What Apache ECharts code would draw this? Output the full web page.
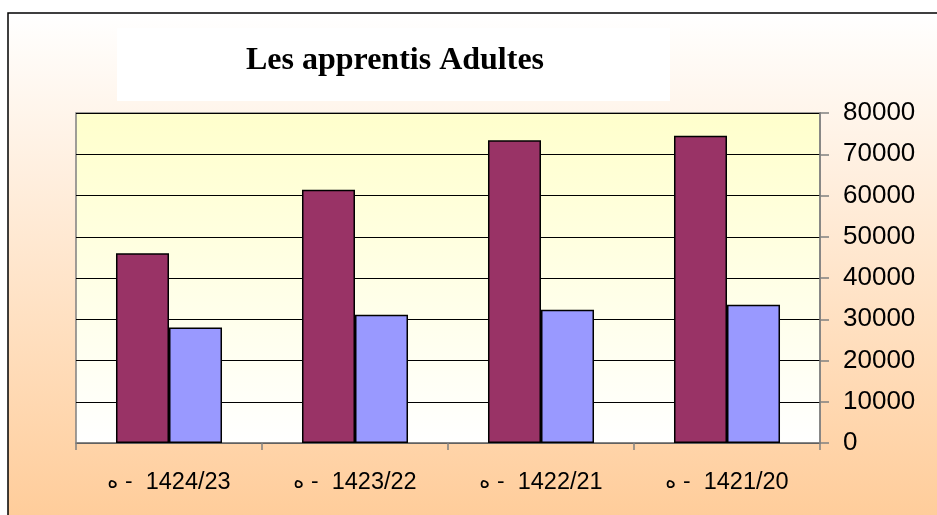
<!DOCTYPE html>
<html>
<head>
<meta charset="utf-8">
<script src="https://cdn.jsdelivr.net/npm/echarts@6/dist/echarts.min.js"></script>
<style>
  html, body { margin: 0; padding: 0; background: #fff; }
  #chart { width: 937px; height: 515px; }
</style>
</head>
<body>
<div id="chart"></div>
<script>
// années (hégire)
var categories = ['1424/23', '1423/22', '1422/21', '1421/20'];
var serie1 = [46000, 61400, 73400, 74500];
var serie2 = [28000, 31100, 32300, 33500];
var yTicks = [0, 10000, 20000, 30000, 40000, 50000, 60000, 70000, 80000];

var dom = document.getElementById('chart');
var myChart = echarts.init(dom);

var option = {
    animation: false,
    backgroundColor: '#ffffff',
    graphic: [
        {
            type: 'rect',
            z: -10,
            shape: { x: 8, y: 13, width: 940, height: 510 },
            style: {
                fill: new echarts.graphic.LinearGradient(0, 0, 0, 1, [
                    { offset: 0, color: '#ffffff' },
                    { offset: 1, color: '#ffcc99' }
                ]),
                stroke: '#000',
                lineWidth: 1.5
            }
        },
        {
            type: 'rect',
            z: -5,
            shape: { x: 117, y: 28, width: 553, height: 73 },
            style: { fill: '#ffffff' }
        },
        {
            type: 'text',
            z: 10,
            x: 395,
            y: 61,
            style: {
                text: 'Les apprentis Adultes',
                fill: '#000',
                font: 'bold 32px "Liberation Serif", "Times New Roman", serif',
                align: 'center',
                verticalAlign: 'middle'
            }
        }
    ],
    grid: {
        left: 76,
        right: 117,
        top: 113,
        bottom: 72,
        show: true,
        borderColor: '#808080',
        borderWidth: 1.5,
        backgroundColor: new echarts.graphic.LinearGradient(0, 0, 0, 1, [
            { offset: 0, color: '#ffffcc' },
            { offset: 1, color: '#ffffff' }
        ])
    },
    xAxis: {
        type: 'category',
        data: categories,
        axisLine: { show: true, lineStyle: { color: '#808080', width: 1.5 } },
        axisTick: { show: true, interval: 0, length: 7, lineStyle: { color: '#808080', width: 1.5 } },
        axisLabel: {
            interval: 0,
            margin: 28,
            color: '#000',
            fontSize: 23.5,
            fontFamily: '"Liberation Sans", Arial, sans-serif',
            formatter: function (v) { return '{h|ه -}  ' + v; },
            rich: {
                h: { fontSize: 21, fontFamily: '"DejaVu Sans", sans-serif', color: '#000' }
            }
        }
    },
    yAxis: {
        type: 'value',
        position: 'right',
        min: yTicks[0],
        max: yTicks[yTicks.length - 1],
        interval: 10000,
        axisLine: { show: true, lineStyle: { color: '#808080', width: 1.5 } },
        axisTick: { show: true, length: 9, lineStyle: { color: '#808080', width: 1.5 } },
        axisLabel: {
            margin: 23,
            color: '#000',
            fontSize: 26,
            fontFamily: '"Liberation Sans", Arial, sans-serif',
            formatter: function (v) { return String(v); }
        },
        splitLine: { show: true, lineStyle: { color: '#000', width: 1 } }
    },
    series: [
        {
            name: 'Série 1',
            type: 'bar',
            data: serie1,
            barGap: '0%',
            barCategoryGap: '43%',
            itemStyle: { color: '#993366', borderColor: '#000', borderWidth: 1.5 }
        },
        {
            name: 'Série 2',
            type: 'bar',
            data: serie2,
            barGap: '0%',
            barCategoryGap: '43%',
            itemStyle: { color: '#9999ff', borderColor: '#000', borderWidth: 1.5 }
        }
    ]
};

myChart.setOption(option);
</script>
</body>
</html>
